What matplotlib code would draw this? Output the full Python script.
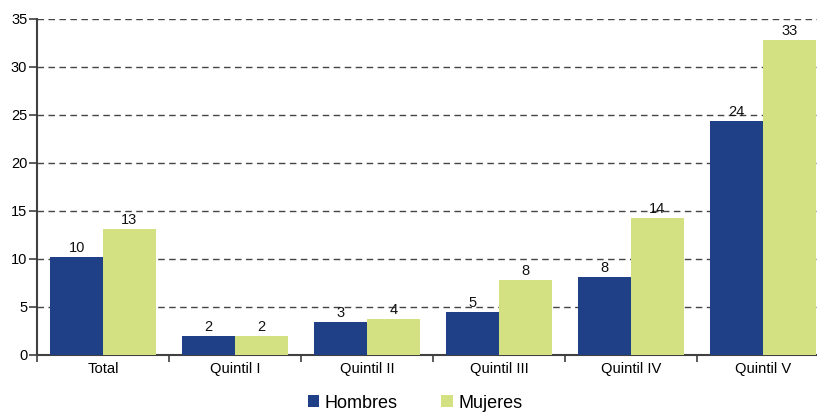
import matplotlib.pyplot as plt
import numpy as np

categories = ["Total", "Quintil I", "Quintil II", "Quintil III", "Quintil IV", "Quintil V"]
hombres = [10.24, 1.98, 3.47, 4.51, 8.13, 24.34]
mujeres = [13.09, 1.96, 3.72, 7.85, 14.3, 32.8]
series_names = ["Hombres", "Mujeres"]

plt.rcParams["font.family"] = ["Liberation Sans", "DejaVu Sans"]

BLUE = "#1f3f87"
GREEN = "#d3e183"

fig = plt.figure(figsize=(8.17, 4.13), dpi=100)
ax = fig.add_axes([37 / 817, 58 / 413, 792 / 817, 336 / 413])

x = np.arange(len(categories))
w = 0.4
b1 = ax.bar(x - w / 2, hombres, w, color=BLUE, label=series_names[0], zorder=3)
b2 = ax.bar(x + w / 2, mujeres, w, color=GREEN, label=series_names[1], zorder=3)

for bars, vals in ((b1, hombres), (b2, mujeres)):
    ax.bar_label(bars, labels=[f"{round(v):d}" for v in vals], padding=1.5, fontsize=10.5, color="#111111")

ax.set_xlim(-0.5, len(categories) - 0.5)
ax.set_ylim(0, 35)
ax.set_yticks(range(0, 36, 5))
ax.yaxis.grid(True, linestyle=(0, (4.7, 3.2)), color="#444444", linewidth=1.0, zorder=0)
ax.set_axisbelow(True)

ax.set_xticks(x)
ax.set_xticklabels(categories, fontsize=10.6)
ax.set_xticks(np.arange(-0.5, len(categories), 1), minor=True)
ax.tick_params(axis="x", which="major", length=0, pad=5)
ax.tick_params(axis="x", which="minor", length=5, width=1.2, color="#404040", direction="out")
ax.tick_params(axis="y", length=6, width=1.2, color="#404040", labelsize=10.5, pad=1)

for s in ("top", "right"):
    ax.spines[s].set_visible(False)
for s in ("left", "bottom"):
    ax.spines[s].set_color("#404040")
    ax.spines[s].set_linewidth(1.5)

fig.legend(handles=[b1, b2], loc="center", bbox_to_anchor=(0.508, 0.024), ncol=2,
           frameon=False, fontsize=13, handlelength=0.65, handleheight=0.65,
           handletextpad=0.3, columnspacing=2.4, borderpad=0.1)

fig.savefig("out.png", dpi=100)
